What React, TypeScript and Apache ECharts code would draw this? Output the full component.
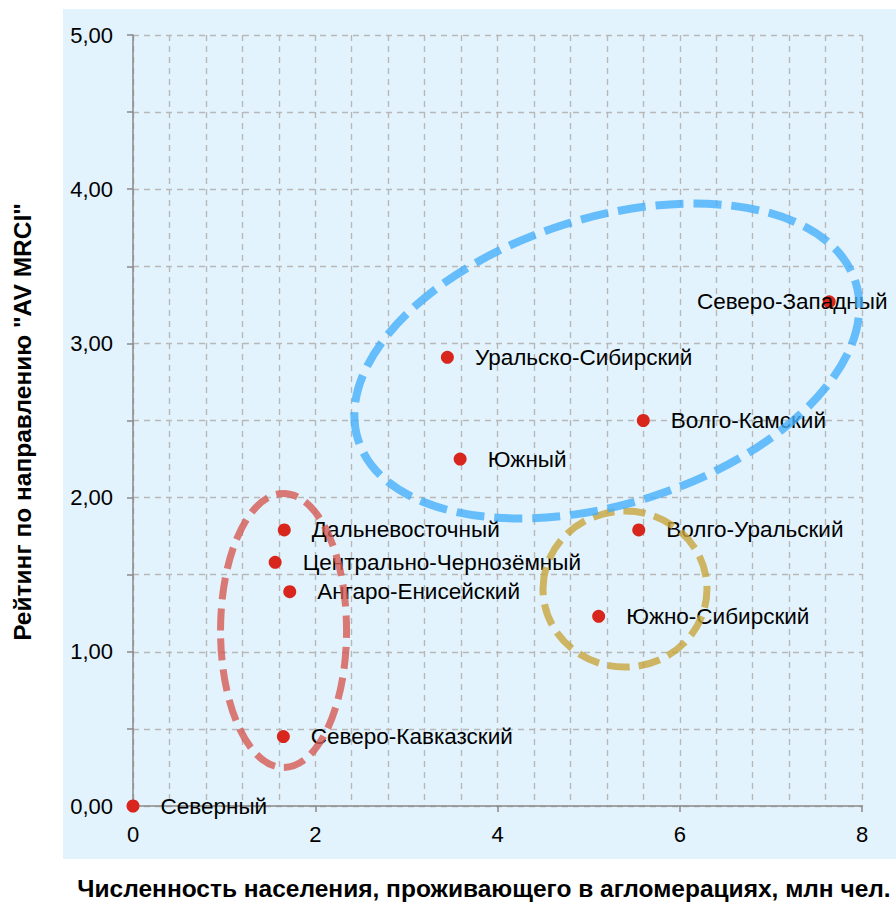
import React, { useEffect, useRef } from "react";
import * as echarts from "echarts";

const regions = [
  "Северный",
  "Северо-Кавказский",
  "Ангаро-Енисейский",
  "Центрально-Чернозёмный",
  "Дальневосточный",
  "Южно-Сибирский",
  "Волго-Уральский",
  "Волго-Камский",
  "Южный",
  "Уральско-Сибирский",
  "Северо-Западный",
];
const population = [0.0, 1.65, 1.72, 1.56, 1.66, 5.11, 5.55, 5.6, 3.59, 3.45, 7.64];
const rating = [0.0, 0.45, 1.39, 1.58, 1.79, 1.23, 1.79, 2.5, 2.25, 2.91, 3.27];

const xTitle = "Численность населения, проживающего в агломерациях, млн чел.";
const yTitle = 'Рейтинг по направлению "AV MRCI"';

// cluster outlines: centre in data units, radii in pixels
const clusters = [
  { cx: 1.652, cy: 1.138, rx: 63, ry: 137, rot: 0, color: "rgba(214,90,84,0.8)", dash: [22, 9], w: 7 },
  { cx: 5.399, cy: 1.407, rx: 82, ry: 78, rot: 0, color: "rgba(200,165,60,0.8)", dash: [22, 9], w: 7 },
  { cx: 5.2, cy: 2.886, rx: 261, ry: 143, rot: 17.6, color: "rgba(70,175,250,0.8)", dash: [28, 10], w: 8 },
];

const FONT = "Arial, 'Liberation Sans', sans-serif";

export default function App() {
  const ref = useRef<HTMLDivElement>(null);
  useEffect(() => {
    document.body.style.margin = "0";
    const chart = echarts.init(ref.current!, null, { renderer: "svg" });
    const data = regions.map((n, i) => {
      const item: any = { name: n, value: [population[i], rating[i]] };
      if (n === "Северо-Западный") {
        item.label = { position: "inside", offset: [-37, 0] };
      }
      return item;
    });
    const gridLine = { show: true, lineStyle: { color: "#b8b8b8", type: [6, 5], width: 1.4 } };
    chart.setOption({
      animation: false,
      textStyle: { fontFamily: FONT },
      grid: { left: 133, right: 34, top: 35, bottom: 100, containLabel: false },
      xAxis: {
        type: "value",
        min: 0,
        max: 8,
        interval: 2,
        axisLine: { show: true, lineStyle: { color: "#8a8a8a", width: 1.5 } },
        axisTick: { show: true, length: 6, lineStyle: { color: "#8a8a8a", width: 1.5 } },
        axisLabel: { color: "#000", fontSize: 22, margin: 17, fontFamily: FONT },
        splitLine: gridLine,
        minorTick: { show: false, splitNumber: 5 },
        minorSplitLine: gridLine,
      },
      yAxis: {
        type: "value",
        min: 0,
        max: 5,
        interval: 1,
        axisLine: { show: true, lineStyle: { color: "#8a8a8a", width: 1.5 } },
        axisTick: { show: true, length: 6, lineStyle: { color: "#8a8a8a", width: 1.5 } },
        minorTick: { show: true, splitNumber: 2, length: 6, lineStyle: { color: "#8a8a8a", width: 1.5 } },
        axisLabel: {
          color: "#000",
          fontSize: 22,
          margin: 20,
          fontFamily: FONT,
          formatter: (v: number) => v.toFixed(2).replace(".", ","),
        },
        splitLine: gridLine,
        minorSplitLine: gridLine,
      },
      series: [
        {
          type: "scatter",
          symbolSize: 13,
          itemStyle: { color: "#d9261c", opacity: 1 },
          data,
          label: {
            show: true,
            position: "right",
            distance: 21,
            formatter: "{b}",
            color: "#000",
            fontSize: 22.5,
            fontFamily: FONT,
          },
        },
      ],
    });

    const ellipses = clusters.map((c) => {
      const p = chart.convertToPixel({ gridIndex: 0 }, [c.cx, c.cy]) as number[];
      return {
        type: "ellipse",
        x: p[0],
        y: p[1],
        rotation: (c.rot * Math.PI) / 180,
        shape: { cx: 0, cy: 0, rx: c.rx, ry: c.ry },
        style: { fill: "none", stroke: c.color, lineWidth: c.w, lineDash: c.dash },
        z: 10,
        silent: true,
      };
    });

    chart.setOption({
      graphic: [
        {
          type: "rect",
          left: 63,
          top: 9,
          shape: { width: 833, height: 850 },
          style: { fill: "#e2f3fd" },
          z: -10,
          silent: true,
        },
        ...ellipses,
        {
          type: "text",
          x: 484,
          y: 888,
          style: {
            text: xTitle,
            fill: "#000",
            font: `bold 24.5px ${FONT}`,
            textAlign: "center",
            textVerticalAlign: "middle",
          },
          z: 10,
        },
        {
          type: "text",
          x: 22,
          y: 422,
          rotation: Math.PI / 2,
          style: {
            text: yTitle,
            fill: "#000",
            font: `bold 24.5px ${FONT}`,
            textAlign: "center",
            textVerticalAlign: "middle",
          },
          z: 10,
        },
      ],
    });
    return () => chart.dispose();
  }, []);
  return <div ref={ref} style={{ width: 896, height: 906 }} />;
}
